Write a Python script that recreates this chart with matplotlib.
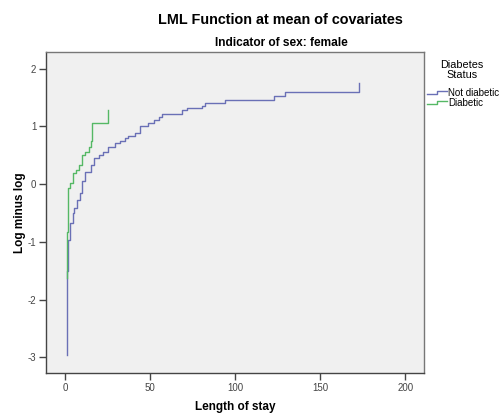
import matplotlib
matplotlib.use("Agg")
import matplotlib.pyplot as plt
from matplotlib.lines import Line2D

plt.rcParams['font.family'] = ['Liberation Sans', 'DejaVu Sans']
plt.rcParams['axes.unicode_minus'] = False

# data (length of stay vs log minus log)
not_diab_x = [1, 1, 2, 3, 4.5, 5.3, 7, 8.8, 10, 12, 15, 17, 20, 22.5, 25.5, 29.5,
              32.5, 35.5, 37, 41, 44, 49, 52, 55, 57, 68.5, 71.5, 80.5, 82.5, 94,
              123, 129, 173]
not_diab_y = [-2.96, -1.51, -0.97, -0.68, -0.50, -0.41, -0.27, -0.15, 0.05, 0.22,
              0.33, 0.45, 0.51, 0.56, 0.65, 0.71, 0.74, 0.80, 0.83, 0.88, 1.00,
              1.06, 1.11, 1.17, 1.22, 1.28, 1.32, 1.36, 1.40, 1.45, 1.52, 1.60, 1.75]

diab_x = [1, 1, 2, 3, 4.5, 6.5, 8, 10, 12, 14, 15, 16, 25.5]
diab_y = [-1.63, -0.82, -0.07, 0.02, 0.19, 0.25, 0.33, 0.51, 0.56, 0.65, 0.74, 1.06, 1.29]

series_names = ["Not diabetic", "Diabetic"]
series_colors = ["#6a70b6", "#55b865"]
x_ticks = [0, 50, 100, 150, 200]
y_ticks = [-3, -2, -1, 0, 1, 2]

W, H = 501, 415
fig = plt.figure(figsize=(W / 100, H / 100), dpi=100)
fig.patch.set_facecolor("white")

ax = fig.add_axes([46 / W, 1 - 373 / H, (424 - 46) / W, (373 - 52) / H])
ax.set_facecolor("#f0f0f0")

ax.step(not_diab_x, not_diab_y, where="post", color=series_colors[0], lw=1.0)
ax.step(diab_x, diab_y, where="post", color=series_colors[1], lw=1.0)

ax.set_xlim(-11.2, 211)
ax.set_ylim(-3.27, 2.29)
ax.set_xticks(x_ticks)
ax.set_yticks(y_ticks)
ax.tick_params(direction="out", length=5, width=1, color="#444444",
               labelsize=7, labelcolor="#444444", pad=2)
for s in ax.spines.values():
    s.set_color("#777777")
    s.set_linewidth(1)
ax.spines["left"].set_color("#444444")
ax.spines["bottom"].set_color("#444444")

ax.set_xlabel("Length of stay", fontsize=8.5, fontweight="bold", labelpad=6)
ax.set_ylabel("Log minus log", fontsize=8.5, fontweight="bold", labelpad=1)

fig.text(280 / W, 1 - 20 / H, "LML Function at mean of covariates",
         ha="center", va="center", fontsize=10.4, fontweight="bold")
fig.text(281 / W, 1 - 43 / H, "Indicator of sex: female",
         ha="center", va="center", fontsize=8.6, fontweight="bold")

# legend drawn by hand to get the step-shaped glyphs
fig.text(462 / W, 1 - 65 / H, "Diabetes", ha="center", va="center", fontsize=7.8)
fig.text(462 / W, 1 - 75 / H, "Status", ha="center", va="center", fontsize=7.8)
rows = [92.5, 102.5]
for name, col, yy in zip(series_names, series_colors, rows):
    xs = [427, 437, 437, 447]
    ys = [yy + 1.8, yy + 1.8, yy - 1.8, yy - 1.8]
    fig.add_artist(Line2D([v / W for v in xs], [1 - v / H for v in ys],
                          color=col, lw=1.0, transform=fig.transFigure))
    fig.text(448 / W, 1 - yy / H, name, ha="left", va="center", fontsize=7)

fig.savefig("out.png", dpi=100)
